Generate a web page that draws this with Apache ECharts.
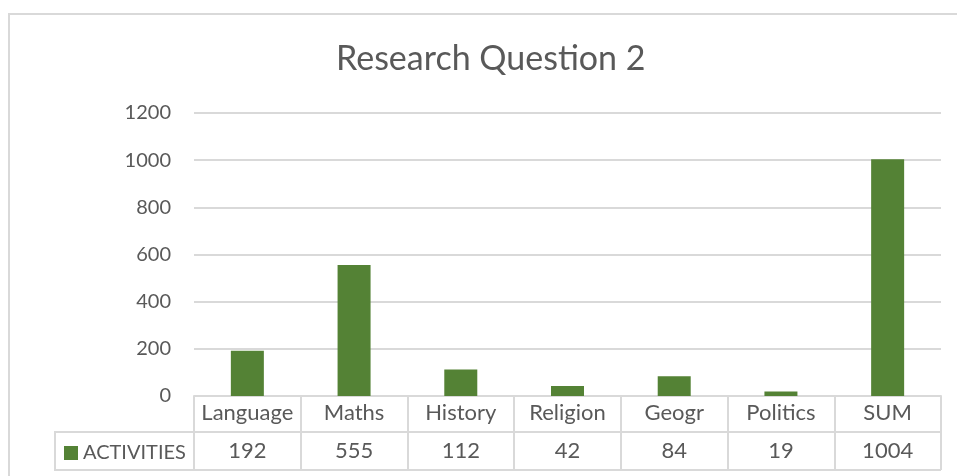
<!DOCTYPE html>
<html><head><meta charset="utf-8">
<script src="https://cdn.jsdelivr.net/npm/echarts@6/dist/echarts.min.js"></script>
<style>html,body{margin:0;padding:0;background:#fff}#c{width:957px;height:476px}</style>
</head><body><div id="c"></div>
<script>
const categories = ['Language', 'Maths', 'History', 'Religion', 'Geogr', 'Politics', 'SUM'];
const activities = [192, 555, 112, 42, 84, 19, 1004];
const seriesName = 'ACTIVITIES';
const titleText = 'Research Question 2';
const yTicks = [0, 200, 400, 600, 800, 1000, 1200];

const W = 957, H = 476;
const G = {left: 194, right: 16, top: 113, bottom: 80};
const gx0 = G.left, gx1 = W - G.right, gy0 = H - G.bottom;
const row1 = 36, row2 = 38;
const legendCellLeft = 55;
const lineCol = '#d9d9d9', textCol = '#595959', barCol = '#548235';
const FONT = 'Lato, "Open Sans", sans-serif';

const chart = echarts.init(document.getElementById('c'), null, {renderer: 'canvas'});
chart.setOption({
  animation: false,
  backgroundColor: '#fff',
  textStyle: {fontFamily: FONT},
  title: {
    text: titleText, left: 336, top: 42, padding: 0,
    textStyle: {fontFamily: FONT, fontSize: 34, fontWeight: 'normal', color: textCol}
  },
  legend: {
    data: [seriesName], left: 64, top: gy0 + row1 + 11,
    icon: 'rect', itemWidth: 14, itemHeight: 14, itemGap: 5, padding: 0,
    textStyle: {fontFamily: FONT, fontSize: 20, color: textCol, padding: [0, 0, 0, 0]}
  },
  grid: {left: G.left, right: G.right, top: G.top, bottom: G.bottom, containLabel: false},
  xAxis: [
    {
      type: 'category', data: categories, position: 'bottom',
      axisLine: {show: true, lineStyle: {color: lineCol, width: 2}},
      axisTick: {show: true, interval: 0, length: row1 + row2, lineStyle: {color: lineCol, width: 2}},
      axisLabel: {interval: 0, margin: 6, fontSize: 22, lineHeight: 22, color: textCol, fontFamily: FONT},
      splitLine: {show: false}
    },
    {
      type: 'category', data: activities.map(String), position: 'bottom', offset: row1,
      axisLine: {show: true, lineStyle: {color: lineCol, width: 2}},
      axisTick: {show: false},
      axisLabel: {interval: 0, margin: 8, fontSize: 22, lineHeight: 22, color: textCol, fontFamily: FONT},
      splitLine: {show: false}
    }
  ],
  yAxis: {
    type: 'value', min: yTicks[0], max: yTicks[yTicks.length - 1], interval: yTicks[1] - yTicks[0],
    axisLine: {show: false}, axisTick: {show: false},
    axisLabel: {margin: 23, fontSize: 20, color: textCol, fontFamily: FONT, formatter: v => String(v)},
    splitLine: {show: true, lineStyle: {color: lineCol, width: 2}}
  },
  series: [{
    name: seriesName, type: 'bar', data: activities, xAxisIndex: 0,
    barWidth: 33, itemStyle: {color: barCol}
  }],
  graphic: [
    {type: 'rect', silent: true, z: 0,
     shape: {x: 9, y: 14, width: W + 20, height: H + 20},
     style: {fill: 'none', stroke: lineCol, lineWidth: 2}},
    {type: 'rect', silent: true, z: 10,
     shape: {x: legendCellLeft, y: gy0 + row1, width: gx0 - legendCellLeft, height: row2},
     style: {fill: 'none', stroke: lineCol, lineWidth: 2}},
    {type: 'line', silent: true, z: 10,
     shape: {x1: gx0, y1: gy0 + row1 + row2, x2: gx1, y2: gy0 + row1 + row2},
     style: {stroke: lineCol, lineWidth: 2}}
  ]
});
</script>
</body></html>
